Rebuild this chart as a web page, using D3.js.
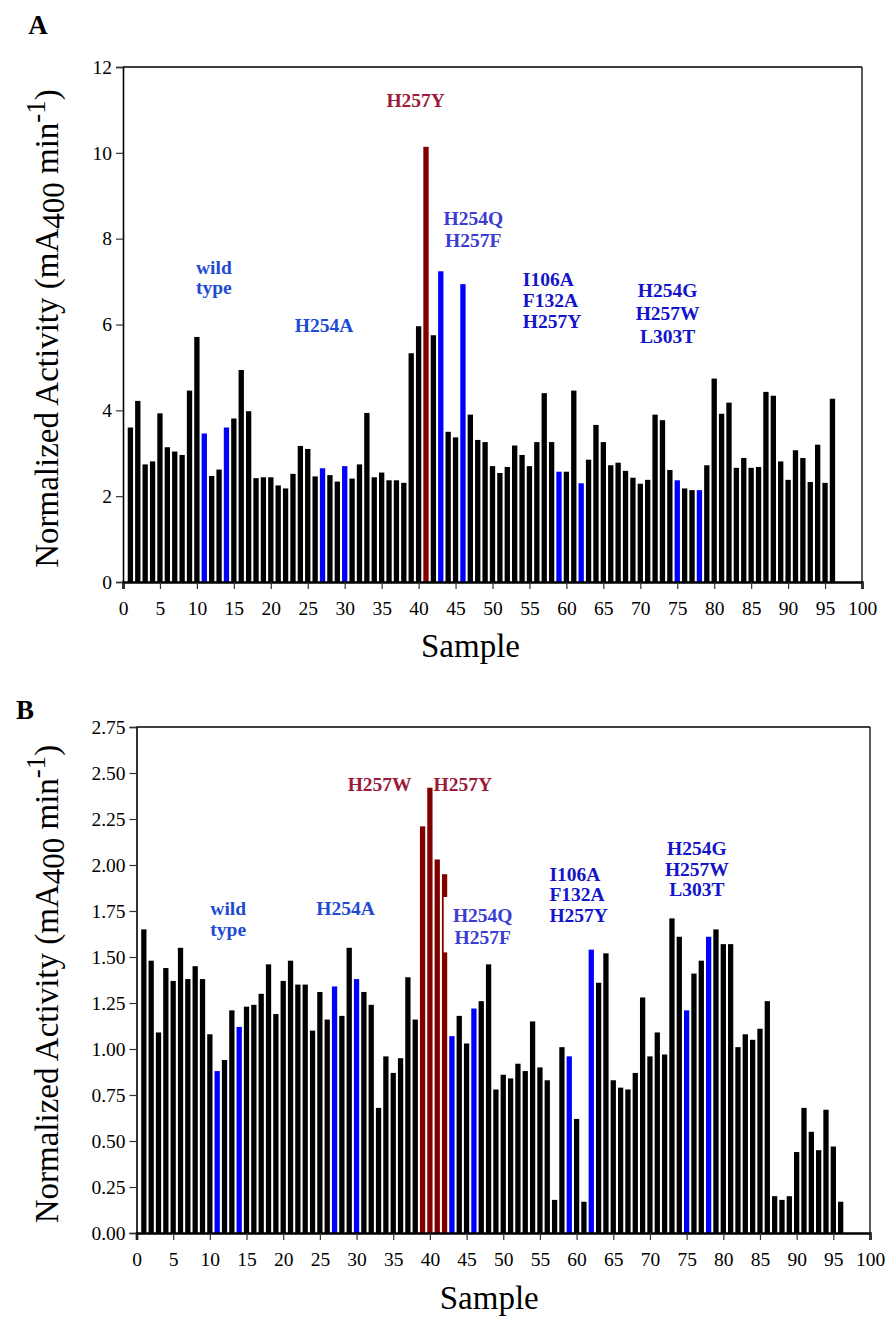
<!DOCTYPE html>
<html>
<head>
<meta charset="utf-8">
<script src="https://cdn.jsdelivr.net/npm/d3@7"></script>
<style>
  body { margin: 0; background: #fff; }
  svg text { font-family: "Liberation Serif", "Times New Roman", serif; }
</style>
</head>
<body>
<div id="chart"></div>
<script>

// Sample numbers (x categories).
const samples = d3.range(1, 97);

// Panel A activity values, one per sample.
const activityA = [
  3.60, 4.22, 2.74, 2.81, 3.93, 3.14, 3.04, 2.96, 4.46, 5.71,
  3.46, 2.47, 2.62, 3.60, 3.81, 4.94, 3.98, 2.42, 2.44, 2.44,
  2.25, 2.18, 2.52, 3.17, 3.10, 2.46, 2.65, 2.49, 2.34, 2.70,
  2.41, 2.74, 3.94, 2.44, 2.55, 2.37, 2.37, 2.31, 5.33, 5.96,
  10.14, 5.75, 7.24, 3.50, 3.37, 6.94, 3.90, 3.31, 3.26, 2.70,
  2.54, 2.68, 3.18, 2.96, 2.70, 3.26, 4.40, 3.26, 2.57, 2.57,
  4.46, 2.30, 2.85, 3.66, 3.26, 2.72, 2.78, 2.59, 2.43, 2.29,
  2.38, 3.90, 3.77, 2.61, 2.37, 2.18, 2.14, 2.14, 2.72, 4.74,
  3.92, 4.18, 2.66, 2.89, 2.66, 2.68, 4.43, 4.34, 2.81, 2.38,
  3.07, 2.89, 2.33, 3.20, 2.31, 4.27
];

// Panel B activity values, one per sample.
const activityB = [
  1.65, 1.48, 1.09, 1.44, 1.37, 1.55, 1.38, 1.45, 1.38, 1.08,
  0.88, 0.94, 1.21, 1.12, 1.23, 1.24, 1.30, 1.46, 1.19, 1.37,
  1.48, 1.35, 1.35, 1.10, 1.31, 1.16, 1.34, 1.18, 1.55, 1.38,
  1.31, 1.24, 0.68, 0.96, 0.87, 0.95, 1.39, 1.16, 2.21, 2.42,
  2.03, 1.95, 1.07, 1.18, 1.03, 1.22, 1.26, 1.46, 0.78, 0.86,
  0.84, 0.92, 0.88, 1.15, 0.90, 0.83, 0.18, 1.01, 0.96, 0.62,
  0.17, 1.54, 1.36, 1.52, 0.83, 0.79, 0.78, 0.87, 1.28, 0.96,
  1.09, 0.97, 1.71, 1.61, 1.21, 1.41, 1.48, 1.61, 1.65, 1.57,
  1.57, 1.01, 1.08, 1.05, 1.11, 1.26, 0.20, 0.18, 0.20, 0.44,
  0.68, 0.55, 0.45, 0.67, 0.47, 0.17
];

// Control samples drawn in blue, hits drawn in dark red.
const blueSamples = [11, 14, 27, 30, 43, 46, 59, 62, 75, 78];
const redSamplesA = [41];
const redSamplesB = [39, 40, 41, 42];

// Tick values.
const xTicks = [0, 5, 10, 15, 20, 25, 30, 35, 40, 45, 50, 55, 60, 65, 70, 75, 80, 85, 90, 95, 100];
const yTicksA = [0, 2, 4, 6, 8, 10, 12];
const yTicksB = [0, 0.25, 0.5, 0.75, 1, 1.25, 1.5, 1.75, 2, 2.25, 2.5, 2.75];

// Mutant labels (placed in sample / activity units).
const notesA = [
  { lines: ["wild", "type"], at: [12.3, 7.18, 6.72], anchor: "middle", color: "#1e4bd2" },
  { lines: ["H254A"], at: [27.2, 5.83], anchor: "middle", color: "#1e4bd2" },
  { lines: ["H257Y"], at: [39.6, 11.07], anchor: "middle", color: "#9b1b3b" },
  { lines: ["H254Q", "H257F"], at: [47.4, 8.33, 7.80], anchor: "middle", color: "#3c3cd2" },
  { lines: ["I106A", "F132A", "H257Y"], at: [54.1, 6.90, 6.41, 5.93], anchor: "start", color: "#1414c8" },
  { lines: ["H254G", "H257W", "L303T"], at: [73.7, 6.63, 6.10, 5.57], anchor: "middle", color: "#1414c8" }
];
const notesB = [
  { lines: ["wild", "type"], at: [12.5, 1.726, 1.614], anchor: "middle", color: "#1e4bd2" },
  { lines: ["H254A"], at: [28.5, 1.726], anchor: "middle", color: "#1e4bd2" },
  { lines: ["H257W"], at: [37.5, 2.40], anchor: "end", color: "#9b1b3b" },
  { lines: ["H257Y"], at: [40.5, 2.40], anchor: "start", color: "#9b1b3b" },
  { lines: ["H254Q", "H257F"], at: [47.2, 1.690, 1.572], anchor: "middle", color: "#3c3cd2", box: [41.88, 51.5, 1.826, 1.525] },
  { lines: ["I106A", "F132A", "H257Y"], at: [56.3, 1.911, 1.803, 1.690], anchor: "start", color: "#1414c8" },
  { lines: ["H254G", "H257W", "L303T"], at: [76.4, 2.053, 1.938, 1.830], anchor: "middle", color: "#1414c8" }
];

const svg = d3.select("#chart")
  .append("svg")
  .attr("width", 887)
  .attr("height", 1319);

const drawPanel = function (p) {

  const x = d3.scaleLinear().domain([0, 100]).range(p.xRange);
  const y = d3.scaleLinear().domain([0, p.yMax]).range(p.yRange);
  const bw = x(0.72) - x(0);

  const g = svg.append("g");

  /**
   * Bars.
   */
  const color = s => p.reds.includes(s) ? "#800000" : (blueSamples.includes(s) ? "#0000ff" : "#000000");

  g.selectAll("rect.bar")
    .data(samples)
    .join("rect")
    .attr("class", "bar")
    .attr("x", s => x(s) - bw / 2)
    .attr("y", (s, i) => y(p.values[i]))
    .attr("width", bw)
    .attr("height", (s, i) => y(0) - y(p.values[i]))
    .style("fill", color);

  /**
   * Frame and axes.
   */
  g.append("line")
    .attr("x1", x(0)).attr("x2", x(100))
    .attr("y1", y(p.yMax)).attr("y2", y(p.yMax))
    .style("stroke", "#000").style("stroke-width", 1.3);
  g.append("line")
    .attr("x1", x(100)).attr("x2", x(100))
    .attr("y1", y(p.yMax)).attr("y2", y(0))
    .style("stroke", "#000").style("stroke-width", 1.3);

  const xAxis = g.append("g")
    .attr("transform", `translate(0, ${y(0)})`)
    .call(d3.axisBottom(x).tickValues(xTicks).tickFormat(d3.format("d")).tickSize(7).tickPadding(12));
  xAxis.select(".domain").style("stroke-width", 2.6);

  const yAxis = g.append("g")
    .attr("transform", `translate(${x(0)}, 0)`)
    .call(d3.axisLeft(y).tickValues(p.yTicks).tickFormat(p.yFormat).tickSize(7).tickPadding(4));
  yAxis.select(".domain").style("stroke-width", 1.6);

  g.selectAll(".tick text")
    .style("font-family", "'Liberation Serif', serif")
    .style("font-size", "19.5px")
    .style("fill", "#000");
  g.selectAll(".tick line").style("stroke", "#333").style("stroke-width", 1.2);

  /**
   * Axis titles.
   */
  g.append("text")
    .attr("x", (x(0) + x(100)) / 2 + p.sampleDx)
    .attr("y", p.sampleY)
    .attr("text-anchor", "middle")
    .style("font-size", "33px")
    .text("Sample");

  const title = g.append("text")
    .attr("transform", `translate(${p.titleX}, ${(y(0) + y(p.yMax)) / 2 + 4}) rotate(-90)`)
    .attr("text-anchor", "middle")
    .style("font-size", "33px");
  title.append("tspan").text("Normalized Activity (mA");
  title.append("tspan").attr("dy", 6).style("font-size", "31px").text("400");
  title.append("tspan").attr("dy", -6).text(" min");
  title.append("tspan").attr("dy", -13).style("font-size", "27px").text("-1");
  title.append("tspan").attr("dy", 13).text(")");

  // Panel letter.
  g.append("text")
    .attr("x", p.letterPos[0])
    .attr("y", p.letterPos[1])
    .attr("text-anchor", "middle")
    .style("font-size", "27px")
    .style("font-weight", "bold")
    .text(p.letter);

  /**
   * Mutant labels.
   */
  p.notes.forEach(n => {
    if (n.box) {
      g.append("rect")
        .attr("x", x(n.box[0]))
        .attr("y", y(n.box[2]))
        .attr("width", x(n.box[1]) - x(n.box[0]))
        .attr("height", y(n.box[3]) - y(n.box[2]))
        .style("fill", "#fff");
    }
    n.lines.forEach((t, i) => {
      g.append("text")
        .attr("x", x(n.at[0]))
        .attr("y", y(n.at[i + 1]))
        .attr("text-anchor", n.anchor)
        .style("font-size", "19.5px")
        .style("font-weight", "bold")
        .style("fill", n.color)
        .text(t);
    });
  });
};

drawPanel({
  values: activityA,
  reds: redSamplesA,
  yMax: 12,
  yTicks: yTicksA,
  yFormat: d3.format("d"),
  xRange: [123, 862],
  yRange: [582, 67],
  notes: notesA,
  letter: "A",
  letterPos: [38, 34],
  titleX: 58,
  sampleY: 657,
  sampleDx: -22
});

drawPanel({
  values: activityB,
  reds: redSamplesB,
  yMax: 2.75,
  yTicks: yTicksB,
  yFormat: d3.format(".2f"),
  xRange: [136.5, 870],
  yRange: [1233, 727],
  notes: notesB,
  letter: "B",
  letterPos: [25, 719],
  titleX: 58,
  sampleY: 1309,
  sampleDx: -14
});

</script>
</body>
</html>
